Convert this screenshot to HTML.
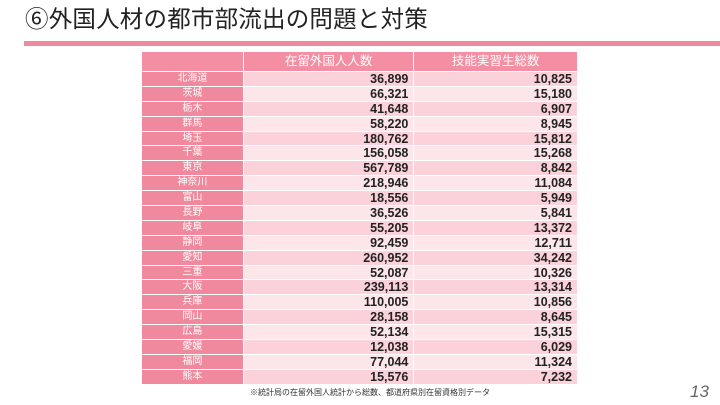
<!DOCTYPE html>
<html><head><meta charset="utf-8"><style>
body{margin:0;width:720px;height:405px;background:#fff;position:relative;overflow:hidden;font-family:"Liberation Sans","Noto Sans CJK JP",sans-serif}
.title{position:absolute;left:25px;top:4px;font-size:23.5px;line-height:30px;color:#222;letter-spacing:0.2px}
.bar{position:absolute;left:24px;top:41px;width:696px;height:5px;background:#ee8aa0}
.tbl{position:absolute;left:142px;top:52px;width:435px}
.r{display:flex;height:13.9px;margin-bottom:1px;line-height:14px;overflow:hidden}
.r div{overflow:hidden}
.c1{width:101px;margin-right:1px;text-align:center;background:#f0899d;color:#fff;font-size:10px}
.c2{width:165px;margin-right:1px;text-align:right;padding-right:5px;font-size:12.5px;font-weight:bold;color:#222}
.c3{width:158px;text-align:right;padding-right:5px;font-size:12.5px;font-weight:bold;color:#222}
.h{height:19px;line-height:19px}
.h div{background:#f48ea2;color:#fff;font-weight:normal;font-size:12.5px;text-align:center;padding-right:0}
.h .c2{width:170px}.h .c3{width:163px}
.a .c2,.a .c3{background:#fcd2da}
.b .c2,.b .c3{background:#fde6ea}
.foot{position:absolute;left:250px;top:388px;font-size:8px;line-height:10px;color:#333}
.pg{position:absolute;left:690px;top:382px;font-size:17px;color:#666;font-style:italic}
</style></head><body>
<div class="title">⑥外国人材の都市部流出の問題と対策</div>
<div class="bar"></div>
<div class="tbl">
<div class="r h"><div class="c1"></div><div class="c2">在留外国人人数</div><div class="c3">技能実習生総数</div></div>
<div class="r a"><div class="c1">北海道</div><div class="c2">36,899</div><div class="c3">10,825</div></div>
<div class="r b"><div class="c1">茨城</div><div class="c2">66,321</div><div class="c3">15,180</div></div>
<div class="r a"><div class="c1">栃木</div><div class="c2">41,648</div><div class="c3">6,907</div></div>
<div class="r b"><div class="c1">群馬</div><div class="c2">58,220</div><div class="c3">8,945</div></div>
<div class="r a"><div class="c1">埼玉</div><div class="c2">180,762</div><div class="c3">15,812</div></div>
<div class="r b"><div class="c1">千葉</div><div class="c2">156,058</div><div class="c3">15,268</div></div>
<div class="r a"><div class="c1">東京</div><div class="c2">567,789</div><div class="c3">8,842</div></div>
<div class="r b"><div class="c1">神奈川</div><div class="c2">218,946</div><div class="c3">11,084</div></div>
<div class="r a"><div class="c1">富山</div><div class="c2">18,556</div><div class="c3">5,949</div></div>
<div class="r b"><div class="c1">長野</div><div class="c2">36,526</div><div class="c3">5,841</div></div>
<div class="r a"><div class="c1">岐阜</div><div class="c2">55,205</div><div class="c3">13,372</div></div>
<div class="r b"><div class="c1">静岡</div><div class="c2">92,459</div><div class="c3">12,711</div></div>
<div class="r a"><div class="c1">愛知</div><div class="c2">260,952</div><div class="c3">34,242</div></div>
<div class="r b"><div class="c1">三重</div><div class="c2">52,087</div><div class="c3">10,326</div></div>
<div class="r a"><div class="c1">大阪</div><div class="c2">239,113</div><div class="c3">13,314</div></div>
<div class="r b"><div class="c1">兵庫</div><div class="c2">110,005</div><div class="c3">10,856</div></div>
<div class="r a"><div class="c1">岡山</div><div class="c2">28,158</div><div class="c3">8,645</div></div>
<div class="r b"><div class="c1">広島</div><div class="c2">52,134</div><div class="c3">15,315</div></div>
<div class="r a"><div class="c1">愛媛</div><div class="c2">12,038</div><div class="c3">6,029</div></div>
<div class="r b"><div class="c1">福岡</div><div class="c2">77,044</div><div class="c3">11,324</div></div>
<div class="r a"><div class="c1">熊本</div><div class="c2">15,576</div><div class="c3">7,232</div></div>
</div>
<div class="foot">※統計局の在留外国人統計から総数、都道府県別在留資格別データ</div>
<div class="pg">13</div>
</body></html>
